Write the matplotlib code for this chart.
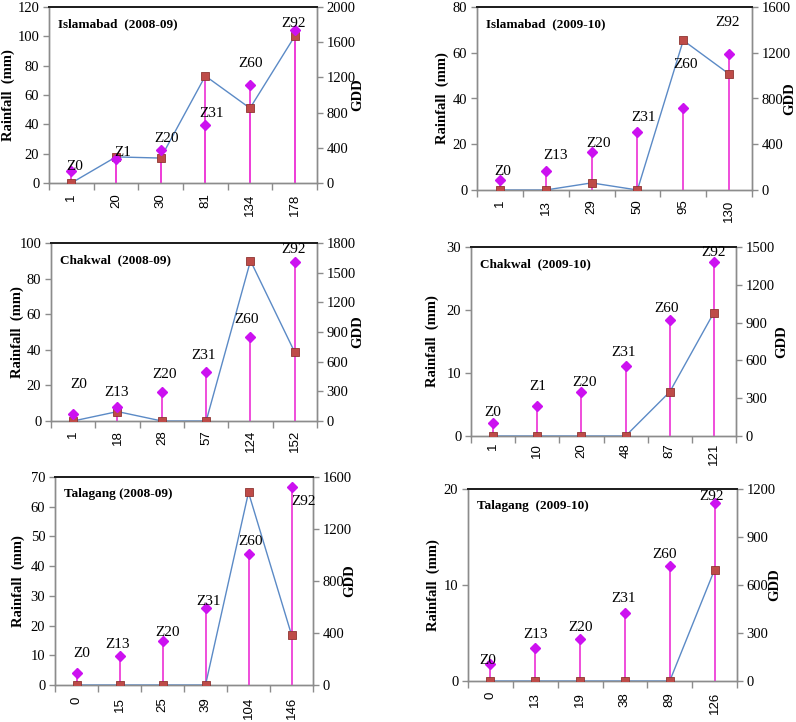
import matplotlib
matplotlib.use("Agg")
import matplotlib.pyplot as plt
import numpy as np

# ---------------- data ----------------
titles = ["Islamabad  (2008-09)", "Islamabad  (2009-10)",
          "Chakwal  (2008-09)", "Chakwal  (2009-10)",
          "Talagang (2008-09)", "Talagang  (2009-10)"]

days_isb_0809 = ["1", "20", "30", "81", "134", "178"]
rain_isb_0809 = [0, 17.8, 17, 73, 51, 100]
gdd_isb_0809 = [136, 272, 378, 654, 1111, 1735]
stage_isb_0809 = ["Z0", "Z1", "Z20", "Z31", "Z60", "Z92"]

days_isb_0910 = ["1", "13", "29", "50", "95", "130"]
rain_isb_0910 = [0, 0, 3.1, 0, 65.4, 50.7]
gdd_isb_0910 = [88, 169, 330, 511, 721, 1188]
stage_isb_0910 = ["Z0", "Z13", "Z20", "Z31", "Z60", "Z92"]

days_chk_0809 = ["1", "18", "28", "57", "124", "152"]
rain_chk_0809 = [0, 5.3, 0, 0, 90, 38.5]
gdd_chk_0809 = [71, 142, 294, 496, 854, 1604]
stage_chk_0809 = ["Z0", "Z13", "Z20", "Z31", "Z60", "Z92"]

days_chk_0910 = ["1", "10", "20", "48", "87", "121"]
rain_chk_0910 = [0, 0, 0, 0, 7.0, 19.6]
gdd_chk_0910 = [103, 238, 349, 553, 923, 1381]
stage_chk_0910 = ["Z0", "Z1", "Z20", "Z31", "Z60", "Z92"]

days_tlg_0809 = ["0", "15", "25", "39", "104", "146"]
rain_tlg_0809 = [0, 0, 0, 0, 64.8, 16.9]
gdd_tlg_0809 = [90, 226, 339, 596, 1007, 1523]
stage_tlg_0809 = ["Z0", "Z13", "Z20", "Z31", "Z60", "Z92"]

days_tlg_0910 = ["0", "13", "19", "38", "89", "126"]
rain_tlg_0910 = [0, 0, 0, 0, 0, 11.6]
gdd_tlg_0910 = [104, 204, 260, 423, 719, 1113]
stage_tlg_0910 = ["Z0", "Z13", "Z20", "Z31", "Z60", "Z92"]

rain_ticks = [np.arange(0, 121, 20), np.arange(0, 81, 20), np.arange(0, 101, 20),
              np.arange(0, 31, 10), np.arange(0, 71, 10), np.arange(0, 21, 10)]
gdd_ticks = [np.arange(0, 2001, 400), np.arange(0, 1601, 400), np.arange(0, 1801, 300),
             np.arange(0, 1501, 300), np.arange(0, 1601, 400), np.arange(0, 1201, 300)]

panels = [
    (days_isb_0809, rain_isb_0809, gdd_isb_0809, stage_isb_0809),
    (days_isb_0910, rain_isb_0910, gdd_isb_0910, stage_isb_0910),
    (days_chk_0809, rain_chk_0809, gdd_chk_0809, stage_chk_0809),
    (days_chk_0910, rain_chk_0910, gdd_chk_0910, stage_chk_0910),
    (days_tlg_0809, rain_tlg_0809, gdd_tlg_0809, stage_tlg_0809),
    (days_tlg_0910, rain_tlg_0910, gdd_tlg_0910, stage_tlg_0910),
]

# ---------------- layout / style ----------------
W, H = 796, 722
# axes boxes in pixels: left, right, top, bottom
boxes = [(49, 317, 7, 183), (477, 752, 7, 190),
         (51, 317, 243, 421), (471, 736, 247, 436),
         (55, 313, 477, 685), (468, 737, 489, 681)]
# label offsets (pixels) relative to diamond
label_off = [
    [(3, 5), (7, 7), (6, 11), (6, 12), (1, 22), (-1, 7)],
    [(3, 8), (10, 15), (7, 9), (6, 14), (2, 43), (-2, 32)],
    [(6, 29), (-1, 14), (3, 17), (-3, 16), (-4, 17), (-1, 13)],
    [(0, 11), (0, 20), (3, 10), (-2, 14), (-3, 11), (0, 9)],
    [(5, 20), (-2, 11), (5, 8), (3, 6), (2, 13), (12, -14)],
    [(-3, 4), (0, 14), (0, 12), (-1, 15), (-5, 11), (-3, 6)],
]
xlab_pad = [7.5, 7, 6.5, 5, 8.5, 8]
ylab_dist = [41, 35, 34, 39, 37, 35]
gdd_dist = [41, 38, 41, 46, 37, 38]
drop_both = [True, False, False, False, False, False]

serif = "Liberation Serif"
sans = "Liberation Sans"
spine_gray = "#8c8c8c"
sq_face = "#BE4B48"
sq_edge = "#8E3532"
dia_col = "#CC11F0"
stem_col = "#EE3FD8"
line_col = "#5B8AC6"

fig = plt.figure(figsize=(W / 100, H / 100), dpi=100)

for i, (days, rain, gdd, stages) in enumerate(panels):
    l, r, t, b = boxes[i]
    ax = fig.add_axes([l / W, 1 - b / H, (r - l) / W, (b - t) / H])
    ax2 = ax.twinx()
    x = np.arange(len(days))
    rt, gt = rain_ticks[i], gdd_ticks[i]
    ax.set_xlim(-0.5, len(days) - 0.5)
    ax.set_ylim(rt[0], rt[-1])
    ax2.set_ylim(gt[0], gt[-1])
    scale = gt[-1] / rt[-1]

    # drop lines
    if drop_both[i]:
        ax.vlines(x, 0, rain, color=stem_col, lw=1.3, zorder=1)
    ax2.vlines(x, 0, gdd, color=stem_col, lw=1.3, zorder=1)
    # rainfall (drawn in GDD-axis units so it sits above the drop lines)
    ax2.plot(x, np.array(rain) * scale, color=line_col, lw=1.0, zorder=2)
    ax2.plot(x, np.array(rain) * scale, ls="none", marker="s", ms=5.5,
             mfc=sq_face, mec=sq_edge, mew=0.6, zorder=3)
    # gdd diamonds
    ax2.plot(x, gdd, ls="none", marker="D", ms=5.5, mfc=dia_col, mec=dia_col, zorder=4)
    for j, s in enumerate(stages):
        dx, dy = label_off[i][j]
        ax2.annotate(s, (x[j], gdd[j]), xytext=(dx, dy), textcoords="offset pixels",
                     ha="center", va="center", fontsize=11, family=serif, color="black",
                     zorder=5)

    # axes styling
    ax.set_yticks(rt)
    ax2.set_yticks(gt)
    ax.set_xticks(x)
    ax.set_xticklabels(days, rotation=90, family=sans, fontsize=9.5)
    ax.set_xticks(np.arange(-0.5, len(days)), minor=True)
    ax.tick_params(axis="x", which="major", length=0, pad=xlab_pad[i])
    ax.tick_params(axis="x", which="minor", length=5, color=spine_gray, width=1)
    ax.tick_params(axis="y", length=4, color=spine_gray, width=1, pad=3)
    ax2.tick_params(axis="y", length=4, color=spine_gray, width=1, pad=3)
    for lab in ax.get_yticklabels() + ax2.get_yticklabels():
        lab.set_family(serif)
        lab.set_fontsize(10.5)
    for a in (ax, ax2):
        for side in ("left", "bottom", "right"):
            a.spines[side].set_color(spine_gray)
            a.spines[side].set_linewidth(1.0)
        a.spines["top"].set_color("#202020")
        a.spines["top"].set_linewidth(1.4)
    ax.patch.set_alpha(0)

    wpx = r - l
    ax.text(-ylab_dist[i] / wpx, 0.5, "Rainfall  (mm)", transform=ax.transAxes,
            rotation=90, ha="center", va="center", fontsize=10.5,
            family=serif, fontweight="bold")
    ax.text(1 + gdd_dist[i] / wpx, 0.5, "GDD", transform=ax.transAxes,
            rotation=90, ha="center", va="center", fontsize=10.5,
            family=serif, fontweight="bold")
    ax2.annotate(titles[i], (0, 1), xycoords="axes fraction", xytext=(9, -17),
                 textcoords="offset pixels", ha="left", va="center",
                 fontsize=9.5, family=serif, fontweight="bold")

fig.savefig("out.png", dpi=100)
